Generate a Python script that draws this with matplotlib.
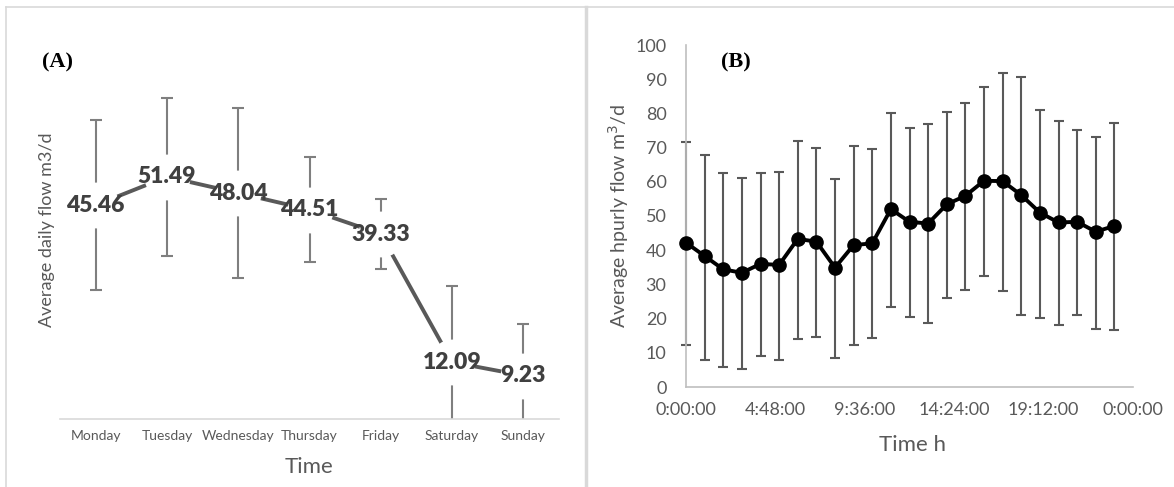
import matplotlib
matplotlib.use("Agg")
import matplotlib.pyplot as plt
import numpy as np
from matplotlib.lines import Line2D

# ---------------- data ----------------
days = ["Monday", "Tuesday", "Wednesday", "Thursday", "Friday", "Saturday", "Sunday"]
daily_mean = [45.46, 51.49, 48.04, 44.51, 39.33, 12.09, 9.23]
daily_sd = [18.1, 16.8, 18.0, 11.2, 7.5, 16.2, 11.0]

hours = list(range(24))
hourly_mean = [42.2, 38.3, 34.4, 33.4, 36.0, 35.7, 43.3, 42.5, 34.9, 41.5, 42.0, 52.0,
               48.3, 47.8, 53.4, 55.9, 60.3, 60.2, 56.1, 51.0, 48.1, 48.3, 45.4, 47.1]
hourly_upper = [71.7, 67.8, 62.7, 61.0, 62.5, 62.9, 71.9, 69.8, 60.8, 70.4, 69.6, 80.0,
                75.8, 76.9, 80.3, 83.0, 87.8, 91.7, 90.7, 81.1, 77.7, 75.1, 73.2, 77.3]
hourly_lower = [12.3, 7.9, 5.8, 5.4, 9.2, 7.9, 14.0, 14.7, 8.6, 12.3, 14.2, 23.5,
                20.6, 18.6, 25.9, 28.4, 32.5, 28.2, 21.1, 20.1, 18.0, 21.1, 17.1, 16.6]
time_ticks = [0.0, 0.2, 0.4, 0.6, 0.8, 1.0]
time_ticklabels = ["0:00:00", "4:48:00", "9:36:00", "14:24:00", "19:12:00", "0:00:00"]
y_ticks_b = list(range(0, 101, 10))

# ---------------- figure ----------------
W, H = 1174, 487
fig = plt.figure(figsize=(W / 100, H / 100), dpi=100)
fig.patch.set_facecolor("white")
sans = ["Lato", "DejaVu Sans"]
plt.rcParams["font.family"] = sans

axis_grey = "#d9d9d9"
text_grey = "#595959"

# panel borders
fig.add_artist(Line2D([6 / W, 1.0], [1 - 7 / H, 1 - 7 / H], color=axis_grey, lw=1.2))
fig.add_artist(Line2D([6 / W, 6 / W], [0, 1 - 7 / H], color=axis_grey, lw=1.2))
fig.add_artist(Line2D([586 / W, 586 / W], [0, 1 - 7 / H], color=axis_grey, lw=2.5))

# ---------------- panel A ----------------
axA = fig.add_axes([60 / W, 68 / H, 499 / W, 376.3 / H])
x = np.arange(len(days))
axA.errorbar(x, daily_mean, yerr=daily_sd, fmt="none", ecolor="#7f7f7f",
             elinewidth=1.5, capsize=4.3, capthick=1.5, zorder=2)
axA.plot(x, daily_mean, color="#595959", lw=2.8, zorder=3, solid_capstyle="butt")
# white "halo" around each data label (hides line and error bars near the point)
axA.plot(x, daily_mean, linestyle="none", marker="o", markersize=33,
         markerfacecolor="white", markeredgecolor="none", zorder=4)
for xi, v in zip(x, daily_mean):
    axA.text(xi, v, f"{v:.2f}", ha="center", va="center", fontsize=16.5,
             fontweight="heavy", color="#404040", zorder=5)
axA.set_xlim(-0.5, len(days) - 0.5)
axA.set_ylim(0, 80)
axA.set_xticks(x)
axA.set_xticklabels(days, fontsize=10, color=text_grey)
axA.tick_params(axis="x", length=0, pad=8)
axA.set_yticks([])
for s in ["top", "right", "left"]:
    axA.spines[s].set_visible(False)
axA.spines["bottom"].set_color(axis_grey)
axA.spines["bottom"].set_linewidth(1.2)
axA.spines["bottom"].set_zorder(6)
axA.set_xlabel("Time", fontsize=16, color=text_grey)
axA.xaxis.set_label_coords(0.499, -0.128)
axA.xaxis.label.set_va("center")
axA.set_ylabel("Average daily flow m3/d", fontsize=13, color=text_grey)
axA.yaxis.set_label_coords(-0.026, 0.502)
axA.yaxis.label.set_va("center")

fig.text(58 / W, 1 - 62 / H, "(A)", ha="center", va="center", fontsize=16,
         fontweight="bold", family=["Liberation Serif", "DejaVu Serif"], color="black")

# ---------------- panel B ----------------
axB = fig.add_axes([686 / W, 100 / H, 447 / W, 342 / H])
tx = np.array(hours) / 24.0
hm = np.array(hourly_mean)
yerr = [hm - np.array(hourly_lower), np.array(hourly_upper) - hm]
eb = axB.errorbar(tx, hm, yerr=yerr, fmt="none", ecolor="#595959",
                  elinewidth=1.5, capsize=3.8, capthick=1.5, zorder=2)
for art in eb.lines[1]:
    art.set_clip_on(False)
for col in eb.lines[2]:
    col.set_clip_on(False)
axB.plot(tx, hm, color="black", lw=2.8, marker="o", markersize=9.5,
         markerfacecolor="black", markeredgecolor="black", zorder=3, clip_on=False)
axB.set_xlim(0, 1)
axB.set_ylim(0, 100)
axB.set_xticks(time_ticks)
axB.set_xticklabels(time_ticklabels, fontsize=13, color=text_grey)
axB.set_yticks(y_ticks_b)
axB.set_yticklabels([str(t) for t in y_ticks_b], fontsize=13, color=text_grey)
axB.tick_params(axis="x", length=0, pad=11)
axB.tick_params(axis="y", length=0, pad=14)
for s in ["top", "right"]:
    axB.spines[s].set_visible(False)
for s in ["left", "bottom"]:
    axB.spines[s].set_color("#bfbfbf")
    axB.spines[s].set_linewidth(1.2)
axB.set_xlabel("Time h", fontsize=16, color=text_grey)
axB.xaxis.set_label_coords(0.506, -0.17)
axB.xaxis.label.set_va("center")
axB.set_ylabel("Average hpurly flow m$^3$/d", fontsize=14, color=text_grey)
axB.yaxis.set_label_coords(-0.15, 0.5)
axB.yaxis.label.set_va("center")

fig.text(736 / W, 1 - 62 / H, "(B)", ha="center", va="center", fontsize=16,
         fontweight="bold", family=["Liberation Serif", "DejaVu Serif"], color="black")

fig.savefig("out.png", dpi=100, facecolor="white")
